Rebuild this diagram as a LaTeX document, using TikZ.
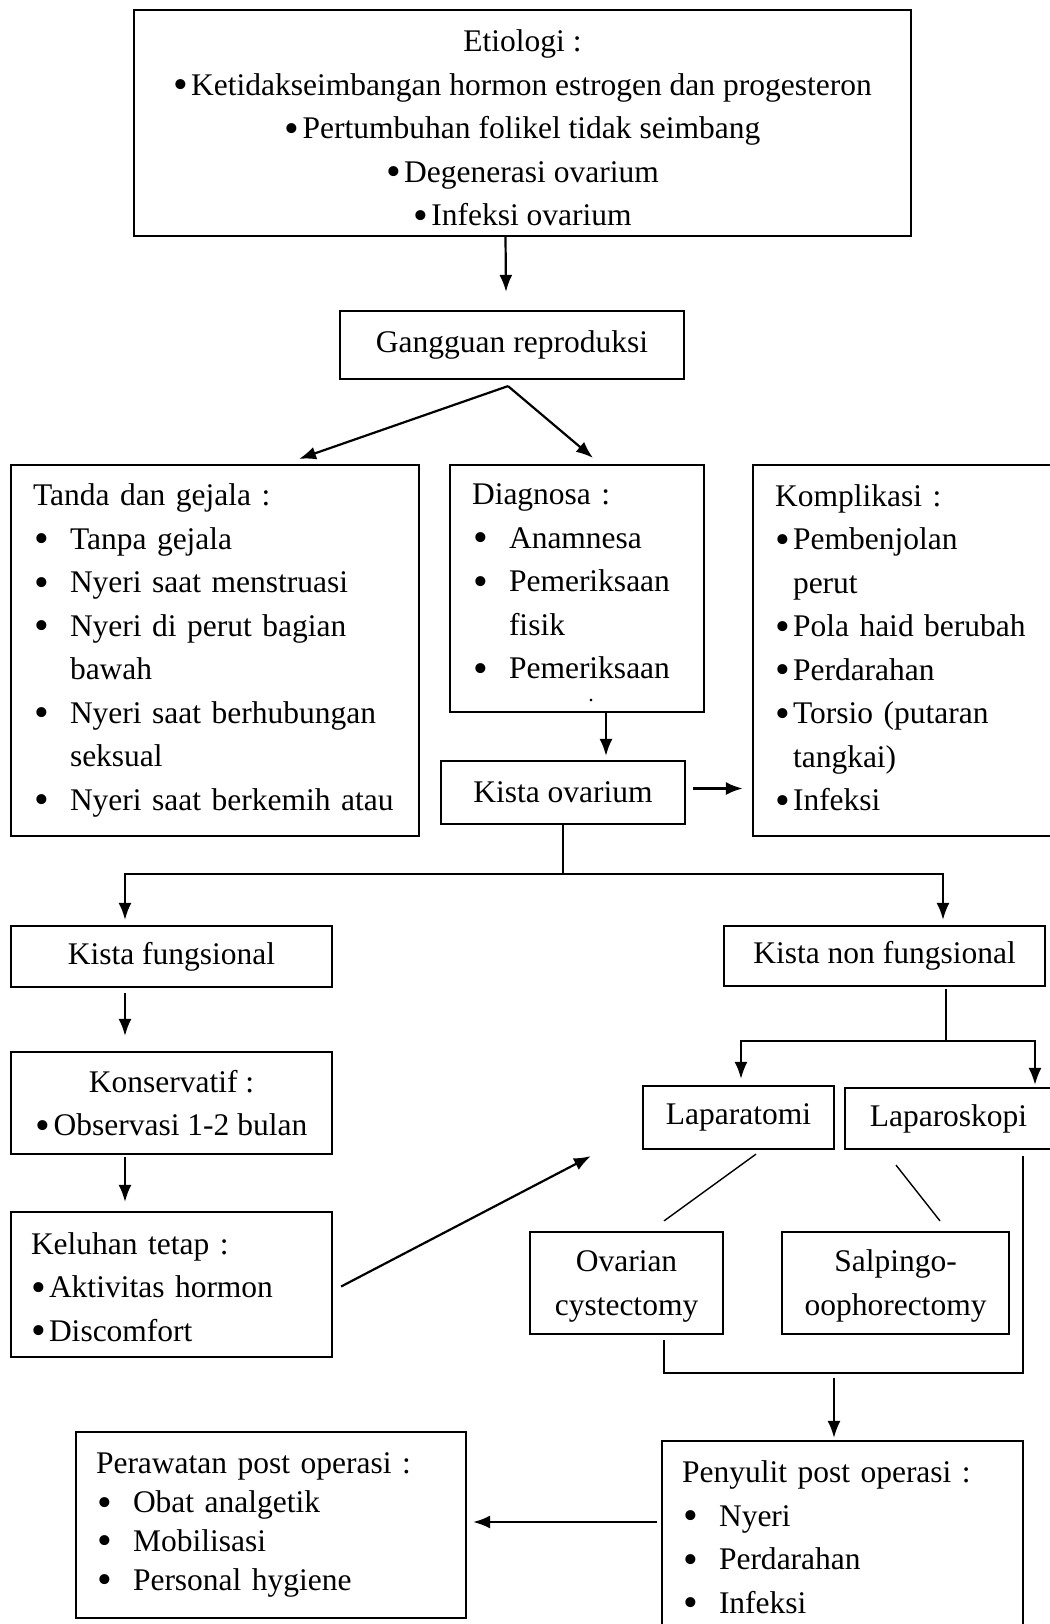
\documentclass[tikz,border=0pt]{standalone}
\usepackage{fontspec}
\setmainfont{Liberation Serif}
\usetikzlibrary{arrows.meta,calc}

\newcommand{\bigdot}{\smash{\raisebox{-3.5pt}{\fontsize{42}{42}\selectfont•}}}
\newcommand{\titem}[1]{\makebox[37pt][l]{\hspace{1pt}\bigdot}#1}
\newcommand{\citem}{\makebox[18pt][l]{\bigdot}}

\tikzset{
  box/.style={draw,line width=2.2pt,inner sep=0pt,font=\fontsize{31.5}{43.5}\selectfont},
  cbox/.style={box,align=center},
  lbox/.style={box,align=left,inner xsep=22pt},
  arr/.style={line width=2.2pt,-{Latex[length=17pt,width=13pt]}},
  slim/.style={line width=1.4pt}
}

\begin{document}
\begin{tikzpicture}[x=1pt,y=-1pt]
   \useasboundingbox (0,0) rectangle (1049,1624);
   % boxes
   \node [cbox,minimum width=777pt,minimum height=226pt] (etio) at (522.5,123)
     {\rule{0pt}{32pt}Etiologi :\\ \citem Ketidakseimbangan hormon estrogen dan progesteron\\
      \citem Pertumbuhan folikel tidak seimbang\\ \citem Degenerasi ovarium\\
      \citem Infeksi ovarium};
   \node [cbox,minimum width=344pt,minimum height=68pt] (gang) at (512,345) {Gangguan reproduksi};
   \node [lbox,text width=364pt,minimum height=371pt] (tanda) at (215,650.5)
     {Tanda dan gejala :\\ \titem{Tanpa gejala}\\ \titem{Nyeri saat menstruasi}\\
      \titem{Nyeri di perut bagian}\\ \hspace*{37pt}bawah\\ \titem{Nyeri saat berhubungan}\\
      \hspace*{37pt}seksual\\ \titem{Nyeri saat berkemih atau}};
   \node [lbox,text width=210pt,minimum height=247pt] (diag) at (577,588.5)
     {Diagnosa :\\ \titem{Anamnesa}\\ \titem{Pemeriksaan}\\ \hspace*{37pt}fisik\\
      \titem{Pemeriksaan}\rule[-14pt]{0pt}{14pt}};
   \node [font=\fontsize{22}{22}\selectfont,inner sep=0pt] (diagdot) at (591,701) {.};
   \node [lbox,text width=268pt,minimum height=371pt] (komp) at (909,650.5)
     {Komplikasi :\\ \citem Pembenjolan\\ \hspace*{18pt}perut\\ \citem Pola haid berubah\\
      \citem Perdarahan\\ \citem Torsio (putaran\\ \hspace*{18pt}tangkai)\\
      \citem Infeksi\rule[-6pt]{0pt}{6pt}};
   \node [cbox,minimum width=244pt,minimum height=63pt] (kista) at (563,792.5) {Kista ovarium};
   \node [cbox,minimum width=321pt,minimum height=61pt] (fung) at (171.5,956.5) {Kista fungsional};
   \node [cbox,minimum width=321pt,minimum height=60pt] (nonf) at (884.5,956) {Kista non fungsional};
   \node [cbox,minimum width=321pt,minimum height=102pt] (kons) at (171.5,1103)
     {Konservatif :\\ \citem Observasi 1-2 bulan};
   \node [lbox,inner xsep=20pt,text width=281pt,minimum height=145pt] (kel) at (171.5,1284.5)
     {\rule{0pt}{27pt}Keluhan tetap :\\ \citem Aktivitas hormon\\ \citem Discomfort};
   \node [cbox,minimum width=191pt,minimum height=63pt] (lapt) at (738.5,1117.5) {Laparatomi};
   \node [cbox,minimum width=207pt,minimum height=61pt] (lapk) at (948.5,1118.5) {Laparoskopi};
   \node [cbox,minimum width=193pt,minimum height=102pt] (ovar) at (626.5,1283)
     {\rule{0pt}{28pt}Ovarian\\ cystectomy};
   \node [cbox,minimum width=227pt,minimum height=102pt] (salp) at (895.5,1283)
     {\rule{0pt}{28pt}Salpingo-\\ oophorectomy};
   \node [lbox,inner xsep=20pt,text width=350pt,minimum height=186pt,
          font=\fontsize{31.5}{38.7}\selectfont] (pera) at (271,1525)
     {Perawatan post operasi :\\ \titem{Obat analgetik}\\ \titem{Mobilisasi}\\ \titem{Personal hygiene}};
   \node [lbox,inner xsep=20pt,text width=321pt,minimum height=192pt] (peny) at (842.5,1537)
     {Penyulit post operasi :\\ \titem{Nyeri}\\ \titem{Perdarahan}\\ \titem{Infeksi}};
   % connectors
   \draw [arr] ($(etio.south)+(-17,0)$) -- ($(gang.north)+(-6,-18)$);
   \coordinate (gsplit) at ($(gang.south)+(-4,6)$);
   \draw [arr] (gsplit) -- ($(tanda.north)+(84,-5)$);
   \draw [arr] (gsplit) -- ($(diag.north)+(16,-6)$);
   \draw [arr] ($(diag.south)+(29,0)$) -- ($(kista.north)+(43,-4)$);
   \draw [arr,line width=2.8pt] ($(kista.east)+(7,-4)$) -- ($(kista.east -| komp.west)+(-9,-4)$);
   \coordinate (ksplit) at ($(kista.south)+(0,49)$);
   \draw [line width=1.8pt] (kista.south) -- (ksplit);
   \draw [arr] (ksplit) -| ($(fung.north)+(-46.5,-5)$);
   \draw [arr] (ksplit) -| ($(nonf.north)+(58.5,-5)$);
   \draw [arr] ($(fung.south)+(-46.5,5)$) -- ($(kons.north)+(-46.5,-15)$);
   \draw [arr] ($(kons.south)+(-46.5,2)$) -- ($(kel.north)+(-46.5,-9)$);
   \draw [arr] ($(kel.east)+(8,2)$) -- ($(lapt.south west)+(-51,6)$);
   \coordinate (nsplit) at ($(nonf.south)+(61.5,54)$);
   \draw [line width=1.8pt] ($(nonf.south)+(61.5,2)$) -- (nsplit);
   \draw [arr] (nsplit) -| ($(lapt.north)+(2.5,-6)$);
   \draw [arr] (nsplit) -| ($(lapk.north)+(86.5,-2)$);
   \draw [slim] ($(lapt.south)+(17.5,4)$) -- ($(ovar.north)+(37.5,-10)$);
   \draw [slim] ($(lapk.south)+(-52.5,15)$) -- ($(salp.north)+(44.5,-10)$);
   \coordinate (bjoin) at ($(ovar.south)+(37.5,38)$);
   \draw [line width=1.8pt] ($(lapk.south)+(74.5,6)$) |- (bjoin) -- ($(ovar.south)+(37.5,5)$);
   \draw [arr] ($(bjoin)+(170,5)$) -- ($(peny.north)+(-8.5,-2)$);
   \draw [arr] ($(peny.west)+(-4,-15)$) -- ($(pera.east)+(6,-3)$);
\end{tikzpicture}
\end{document}
